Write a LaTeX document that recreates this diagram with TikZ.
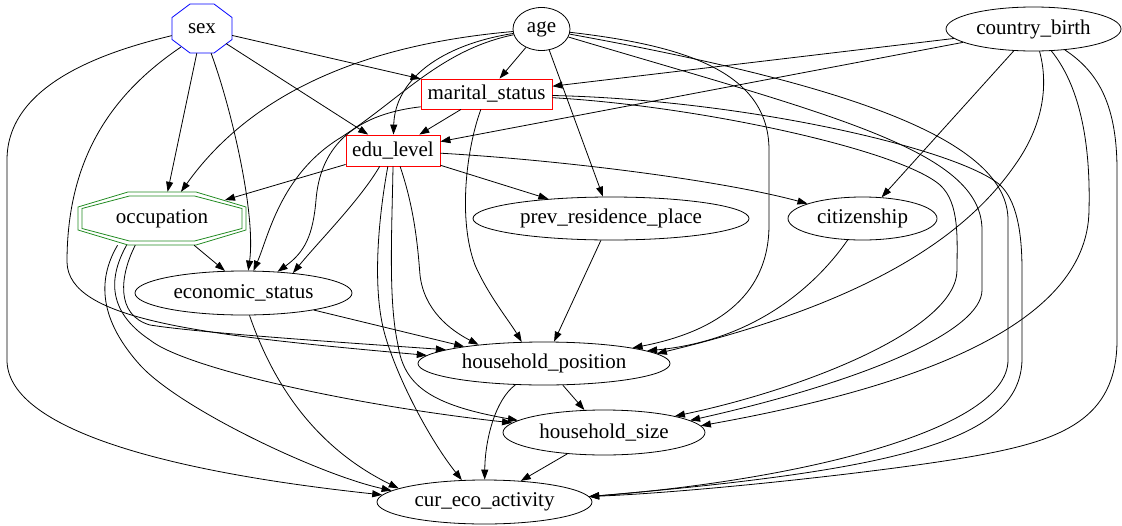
\documentclass[tikz,border=0pt]{standalone}
\usepackage{fontspec}
\setmainfont{Liberation Serif}
\usetikzlibrary{arrows.meta,shapes.geometric,calc}
\definecolor{octgreen}{RGB}{34,139,34}

\tikzset{
  every node/.style={font=\fontsize{21}{25}\selectfont, inner sep=0pt},
  var/.style={ellipse, draw, line width=0.8pt},
  keyvar/.style={rectangle, draw=red, line width=0.8pt},
  link/.style={line width=0.8pt, -{Triangle[length=10pt,width=7pt]}},
}

\begin{document}
\begin{tikzpicture}[x=1pt,y=-1pt]
\useasboundingbox (0,0) rectangle (1122,525);

% variables
\node[minimum width=60, minimum height=49] (sex) at (202,28.5) {sex};
\node[var, minimum width=57, minimum height=43] (age) at (541.5,29) {age};
\node[var, minimum width=175, minimum height=44] (cbirth) at (1033.5,29) {country\_birth};
\node[keyvar, minimum width=131, minimum height=30] (marital) at (486.5,94) {marital\_status};
\node[keyvar, minimum width=94, minimum height=31] (edu) at (393,150.5) {edu\_level};
\node[minimum width=168, minimum height=53] (occup) at (162,218.5) {occupation};
\node[var, minimum width=276, minimum height=43] (prevres) at (611,218.5) {prev\_residence\_place};
\node[var, minimum width=149, minimum height=43] (citiz) at (862.5,218.5) {citizenship};
\node[var, minimum width=217, minimum height=44] (econ) at (243.5,293) {economic\_status};
\node[var, minimum width=252, minimum height=43] (hpos) at (544,363.5) {household\_position};
\node[var, minimum width=202, minimum height=45] (hsize) at (604,432.5) {household\_size};
\node[var, minimum width=215, minimum height=44] (cureco) at (484.5,502) {cur\_eco\_activity};

% octagons
\draw[blue, line width=0.8pt, shift={(sex.center)}] (-12,-24.5) -- (12,-24.5) -- (30,-11) -- (30,11)
  -- (12,24.5) -- (-12,24.5) -- (-30,11) -- (-30,-11) -- cycle;
\draw[octgreen, line width=0.8pt, shift={(occup.center)}] (-34,-26.5) -- (34,-26.5) -- (84,-11.5) -- (84,11.5)
  -- (34,26.5) -- (-34,26.5) -- (-84,11.5) -- (-84,-11.5) -- cycle;
\draw[octgreen, line width=0.8pt, shift={(occup.center)}] (-32.5,-22.5) -- (32.5,-22.5) -- (80,-10) -- (80,10)
  -- (32.5,22.5) -- (-32.5,22.5) -- (-80,10) -- (-80,-10) -- cycle;

% sex
\draw[link] (sex) -- (marital);
\draw[link] ($(sex)+(24,15)$) -- (edu);
\draw[link] (sex) -- (occup);
\draw[link] (sex) .. controls (232,110) and (256,215) .. (econ.78);
\draw[link] ($(sex)+(-21,18.5)$) .. controls (110,95) and (67,160) .. (67,262) .. controls (68,320) and (200,335) .. (hpos.176);
\draw[link] (sex) .. controls (90,55) and (7,90) .. (7,160) -- (7,360) .. controls (7,425) and (150,470) .. (cureco.176);

% age
\draw[link] (age) -- (marital);
\draw[link] (age) .. controls (440,45) and (395,80) .. (edu);
\draw[link] (age) .. controls (360,45) and (250,95) .. (occup);
\draw[link] (age) .. controls (440,50) and (400,100) .. (340,138) .. controls (280,175) and (268,238) .. (econ.66);
\draw[link] (age) -- (prevres);
\draw[link] (age) .. controls (680,45) and (769,70) .. (769,150) -- (769,225) .. controls (769,300) and (710,333) .. (hpos.10);
\draw[link] (age) .. controls (830,115) and (982,150) .. (982,230) -- (982,290) .. controls (982,330) and (870,380) .. (hsize.8);
\draw[link] (age) .. controls (850,85) and (1008,140) .. (1008,220) -- (1008,360) .. controls (1008,430) and (800,480) .. (cureco.3);

% country_birth
\draw[link] (cbirth) -- (marital);
\draw[link] (cbirth) -- (edu);
\draw[link] (cbirth) -- (citiz);
\draw[link] (cbirth) .. controls (1050,90) and (1040,130) .. (1015,165) .. controls (970,230) and (880,300) .. (hpos.5);
\draw[link] (cbirth) .. controls (1075,80) and (1091,130) .. (1089,210) .. controls (1088,330) and (900,390) .. (hsize.4);
\draw[link] (cbirth) .. controls (1095,70) and (1117,100) .. (1117,170) -- (1117,340) .. controls (1117,420) and (1060,440) .. (980,455)
  .. controls (900,470) and (700,492) .. (cureco.3);

% marital_status
\draw[link] (marital) -- (edu);
\draw[link] (marital.-169) .. controls (350,115) and (320,150) .. (316,200) .. controls (313,235) and (305,252) .. (econ.32);
\draw[link] (marital) .. controls (466,150) and (458,220) .. (475,265) .. controls (488,295) and (510,322) .. (hpos.136);
\draw[link] (marital) .. controls (700,106) and (900,150) .. (940,185) .. controls (960,203) and (957,240) .. (957,270)
  .. controls (957,330) and (800,390) .. (hsize.13);
\draw[link] (marital) .. controls (750,100) and (960,150) .. (1000,185) .. controls (1016,200) and (1022,230) .. (1022,270)
  -- (1022,360) .. controls (1020,440) and (900,470) .. (cureco.3);

% edu_level
\draw[link] (edu) -- ($(occup)+(63,-18.5)$);
\draw[link] (edu) -- (prevres);
\draw[link] (edu) .. controls (560,160) and (720,180) .. (citiz);
\draw[link] (edu.-130) .. controls (360,200) and (320,240) .. (econ.22);
\draw[link] (edu.-66) .. controls (415,210) and (418,250) .. (420,275) .. controls (424,310) and (450,330) .. (hpos.164);
\draw[link] (edu.south) .. controls (392,230) and (388,300) .. (398,345) .. controls (404,385) and (430,405) .. (hsize.172);
\draw[link] (edu.-108) .. controls (378,220) and (372,290) .. (385,335) .. controls (398,380) and (430,440) .. (cureco.136);

% occupation
\draw[link] (occup) -- (econ.130);
\draw[link] (occup.-135) .. controls (120,275) and (115,315) .. (150,325) .. controls (200,333) and (350,343) .. (hpos.172);
\draw[link] (occup.-143) .. controls (110,275) and (105,310) .. (150,340) .. controls (185,368) and (350,405) .. (hsize.174);
\draw[link] (occup.-149) .. controls (100,275) and (95,315) .. (140,365) .. controls (180,409) and (320,475) .. (cureco.173);

% lower part
\draw[link] (prevres) -- (hpos);
\draw[link] (citiz) .. controls (820,280) and (760,340) .. (hpos.7);
\draw[link] (econ) -- (hpos.168);
\draw[link] (econ.-75) .. controls (265,360) and (300,440) .. (cureco.171);
\draw[link] (hpos) -- (hsize);
\draw[link] (hpos) .. controls (495,400) and (485,440) .. (cureco);
\draw[link] (hsize) -- (cureco);
\end{tikzpicture}
\end{document}
